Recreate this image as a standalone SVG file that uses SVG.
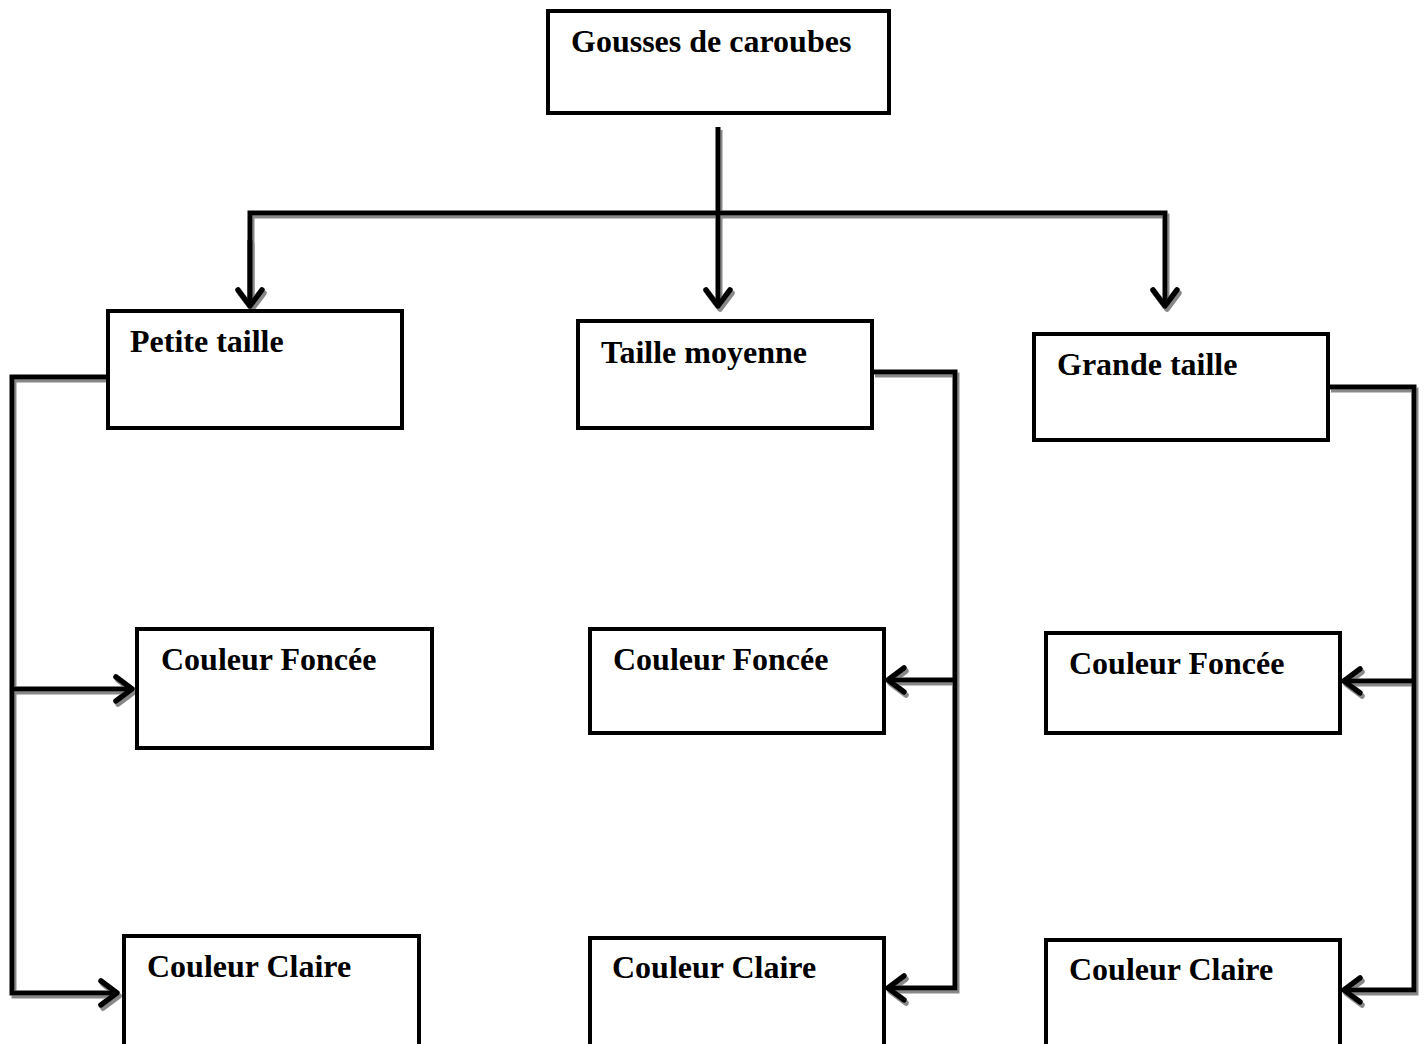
<svg xmlns="http://www.w3.org/2000/svg" width="1427" height="1044" viewBox="0 0 1427 1044">
<style>
.box{fill:#fff;stroke:#000;stroke-width:4}
.lbl{font-family:"Liberation Serif","Times New Roman",serif;font-weight:bold;font-size:32px;fill:#000}
.ln{fill:none;stroke:#000;stroke-width:5;stroke-linejoin:miter}
</style>
<defs>
<filter id="sh" x="-5%" y="-5%" width="110%" height="110%"><feDropShadow dx="2" dy="3" stdDeviation="0.7" flood-color="#888" flood-opacity="1"/></filter>
<marker id="ah" markerUnits="userSpaceOnUse" markerWidth="34" markerHeight="34" viewBox="-22 -17 26 34" refX="0" refY="0" orient="auto"><path d="M-16,-12 L0,0 L-16,12" fill="none" stroke="#000" stroke-width="5.5" stroke-linecap="round" stroke-linejoin="round"/></marker>
</defs>
<rect width="1427" height="1044" fill="#fff"/>
<g id="connectors" filter="url(#sh)">
<path class="ln" d="M718,127 V306" marker-end="url(#ah)"/>
<path class="ln" d="M250,306 V213 H1165 V306" marker-end="url(#ah)"/>
<path class="ln" d="M250,240 V306" marker-end="url(#ah)"/>
<path class="ln" d="M107,377 H12 V993 H117" marker-end="url(#ah)"/>
<path class="ln" d="M12,689 H132" marker-end="url(#ah)"/>
<path class="ln" d="M873,372 H955 V988 H888" marker-end="url(#ah)"/>
<path class="ln" d="M955,680 H888" marker-end="url(#ah)"/>
<path class="ln" d="M1329,387 H1414 V990 H1344" marker-end="url(#ah)"/>
<path class="ln" d="M1414,681 H1344" marker-end="url(#ah)"/>
</g>
<g id="n-gousses"><rect class="box" x="548" y="11" width="341" height="102"/><text class="lbl" x="571" y="52">Gousses de caroubes</text></g>
<g id="n-petite"><rect class="box" x="108" y="311" width="294" height="117"/><text class="lbl" x="130" y="352">Petite taille</text></g>
<g id="n-moyenne"><rect class="box" x="578" y="321" width="294" height="107"/><text class="lbl" x="601" y="363">Taille moyenne</text></g>
<g id="n-grande"><rect class="box" x="1034" y="334" width="294" height="106"/><text class="lbl" x="1057" y="375">Grande taille</text></g>
<g id="n-fonce1"><rect class="box" x="137" y="629" width="295" height="119"/><text class="lbl" x="161" y="670">Couleur Foncée</text></g>
<g id="n-fonce2"><rect class="box" x="590" y="629" width="294" height="104"/><text class="lbl" x="613" y="670">Couleur Foncée</text></g>
<g id="n-fonce3"><rect class="box" x="1046" y="633" width="294" height="100"/><text class="lbl" x="1069" y="674">Couleur Foncée</text></g>
<g id="n-claire1"><rect class="box" x="124" y="936" width="295" height="112"/><text class="lbl" x="147" y="977">Couleur Claire</text></g>
<g id="n-claire2"><rect class="box" x="590" y="938" width="294" height="110"/><text class="lbl" x="612" y="978">Couleur Claire</text></g>
<g id="n-claire3"><rect class="box" x="1046" y="940" width="294" height="108"/><text class="lbl" x="1069" y="980">Couleur Claire</text></g>
</svg>
